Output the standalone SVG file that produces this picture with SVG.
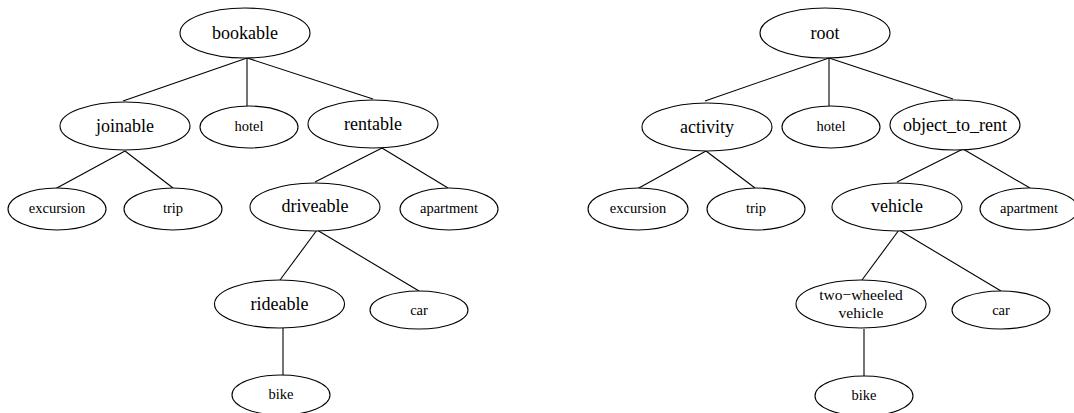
<svg xmlns="http://www.w3.org/2000/svg" width="1074" height="413" viewBox="0 0 1074 413">
<style>
.n ellipse{fill:#fff;stroke:#000;stroke-width:1.1}
.n text{font-family:"Liberation Serif","Times New Roman",serif;text-anchor:middle;fill:#000}
.b text{font-size:18px}
.s text{font-size:14.5px}
#edges line{stroke:#000;stroke-width:1.1}
</style>
<rect width="1074" height="413" fill="#fff"/>
<g id="edges">
<line x1="247" y1="58" x2="123" y2="101"/>
<line x1="247" y1="58" x2="247" y2="106"/>
<line x1="247" y1="58" x2="373" y2="99"/>
<line x1="125" y1="151" x2="55" y2="189"/>
<line x1="125" y1="151" x2="173" y2="188"/>
<line x1="382" y1="148" x2="315" y2="182"/>
<line x1="382" y1="148" x2="448" y2="188"/>
<line x1="317" y1="230" x2="280" y2="280"/>
<line x1="317" y1="230" x2="419" y2="291"/>
<line x1="283" y1="328" x2="283" y2="376"/>
<line x1="829" y1="58" x2="705" y2="101"/>
<line x1="829" y1="58" x2="829" y2="106"/>
<line x1="829" y1="58" x2="953" y2="99"/>
<line x1="706" y1="151" x2="637" y2="189"/>
<line x1="706" y1="151" x2="755" y2="188"/>
<line x1="963" y1="149" x2="897" y2="182"/>
<line x1="963" y1="149" x2="1030" y2="188"/>
<line x1="899" y1="230" x2="862" y2="280"/>
<line x1="899" y1="230" x2="1001" y2="291"/>
<line x1="864" y1="329" x2="864" y2="376"/>
</g>
<g id="bookable" class="n b"><ellipse cx="245" cy="33" rx="65" ry="25"/><text x="245" y="39">bookable</text></g>
<g id="joinable" class="n b"><ellipse cx="125" cy="126" rx="65" ry="24"/><text x="125" y="132">joinable</text></g>
<g id="hotel1" class="n s"><ellipse cx="249" cy="127" rx="49" ry="21"/><text x="249" y="131">hotel</text></g>
<g id="rentable" class="n b"><ellipse cx="373" cy="124" rx="65" ry="24"/><text x="373" y="130">rentable</text></g>
<g id="excursion1" class="n s"><ellipse cx="57" cy="209" rx="49" ry="21"/><text x="57" y="213">excursion</text></g>
<g id="trip1" class="n s"><ellipse cx="173" cy="209" rx="49" ry="21"/><text x="173" y="213">trip</text></g>
<g id="driveable" class="n b"><ellipse cx="315" cy="207" rx="65" ry="24"/><text x="315" y="212">driveable</text></g>
<g id="apartment1" class="n s"><ellipse cx="449" cy="209" rx="49" ry="21"/><text x="449" y="213">apartment</text></g>
<g id="rideable" class="n b"><ellipse cx="279.5" cy="304" rx="65" ry="24"/><text x="279.5" y="310">rideable</text></g>
<g id="car1" class="n s"><ellipse cx="419" cy="310" rx="49" ry="19"/><text x="419" y="315">car</text></g>
<g id="bike1" class="n s"><ellipse cx="281" cy="395" rx="49" ry="20"/><text x="281" y="399">bike</text></g>
<g id="root" class="n b"><ellipse cx="825" cy="33" rx="65" ry="25"/><text x="825" y="39">root</text></g>
<g id="activity" class="n b"><ellipse cx="707" cy="127" rx="65" ry="24"/><text x="707" y="133">activity</text></g>
<g id="hotel2" class="n s"><ellipse cx="831" cy="127" rx="49" ry="21"/><text x="831" y="131">hotel</text></g>
<g id="object_to_rent" class="n b"><ellipse cx="955" cy="125" rx="65" ry="25"/><text x="955" y="131">object_to_rent</text></g>
<g id="excursion2" class="n s"><ellipse cx="638" cy="209" rx="50" ry="21"/><text x="638" y="213">excursion</text></g>
<g id="trip2" class="n s"><ellipse cx="756" cy="209" rx="49" ry="21"/><text x="756" y="213">trip</text></g>
<g id="vehicle" class="n b"><ellipse cx="897" cy="207" rx="65" ry="24"/><text x="897" y="212">vehicle</text></g>
<g id="apartment2" class="n s"><ellipse cx="1029" cy="209" rx="49" ry="21"/><text x="1029" y="213">apartment</text></g>
<g id="two_wheeled_vehicle" class="n"><ellipse cx="861" cy="304" rx="65" ry="24"/><text x="861" y="300" font-size="15.5">two−wheeled</text><text x="861" y="317.5" font-size="15.5">vehicle</text></g>
<g id="car2" class="n s"><ellipse cx="1001" cy="310" rx="49" ry="19"/><text x="1001" y="315">car</text></g>
<g id="bike2" class="n s"><ellipse cx="864" cy="396" rx="49" ry="20"/><text x="864" y="400">bike</text></g>
</svg>
